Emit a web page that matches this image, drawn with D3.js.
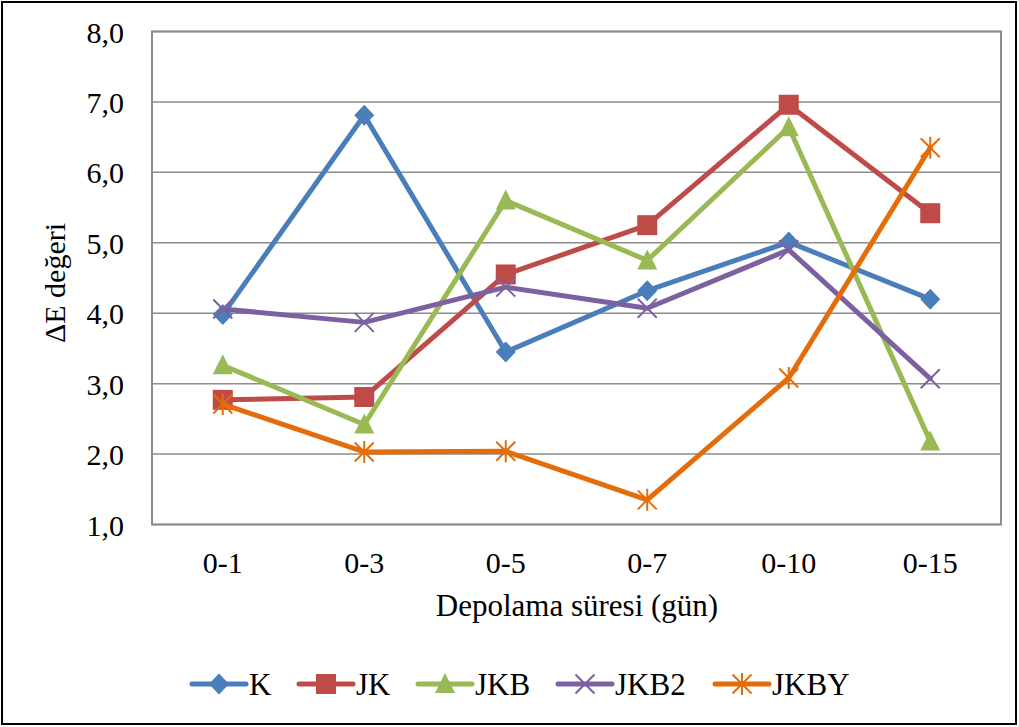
<!DOCTYPE html>
<html>
<head>
<meta charset="utf-8">
<script src="https://cdn.jsdelivr.net/npm/d3@7"></script>
<style>
  html, body { margin: 0; padding: 0; background: #fff; }
  svg { display: block; }
  text { font-family: "Liberation Serif", "Times New Roman", serif; fill: #000; }
</style>
</head>
<body>
<svg id="chart" width="1019" height="727"></svg>
<script>
// Storage periods (days)
const categories = ["0-1", "0-3", "0-5", "0-7", "0-10", "0-15"];

// ΔE values per sample group
const seriesNames = ["K", "JK", "JKB", "JKB2", "JKBY"];
const valuesK    = [3.98, 6.81, 3.45, 4.32, 5.01, 4.20];
const valuesJK   = [2.77, 2.81, 4.55, 5.25, 6.96, 5.42];
const valuesJKB  = [3.26, 2.42, 5.60, 4.75, 6.64, 2.18];
const valuesJKB2 = [4.06, 3.87, 4.37, 4.07, 4.90, 3.07];
const valuesJKBY = [2.71, 2.03, 2.04, 1.35, 3.08, 6.35];

const yTicks = [1, 2, 3, 4, 5, 6, 7, 8];

const series = [
  { name: "K",    values: valuesK,    color: "#4A7EBB", marker: "diamond" },
  { name: "JK",   values: valuesJK,   color: "#BE4B48", marker: "square" },
  { name: "JKB",  values: valuesJKB,  color: "#98B954", marker: "triangle" },
  { name: "JKB2", values: valuesJKB2, color: "#7D60A0", marker: "x" },
  { name: "JKBY", values: valuesJKBY, color: "#E46C0A", marker: "star" }
];

const svg = d3.select("#chart");
const W = 1019, H = 727;

// outer frame
svg.append("rect")
  .attr("x", 2).attr("y", 2).attr("width", W - 5).attr("height", H - 5)
  .attr("fill", "#fff").attr("stroke", "#000").attr("stroke-width", 2);

const plot = { left: 152, right: 1001, top: 31.5, bottom: 524.5 };

const x = d3.scaleBand().domain(categories).range([plot.left, plot.right]);
const y = d3.scaleLinear().domain([1, 8]).range([plot.bottom, plot.top]);
const cx = c => x(c) + x.bandwidth() / 2;

// gridlines
svg.append("g").selectAll("line").data(yTicks).join("line")
  .attr("x1", plot.left).attr("x2", plot.right)
  .attr("y1", d => y(d)).attr("y2", d => y(d))
  .attr("stroke", "#8c8c8c").attr("stroke-width", 1.5);

// plot frame
svg.append("rect")
  .attr("x", plot.left).attr("y", plot.top)
  .attr("width", plot.right - plot.left).attr("height", plot.bottom - plot.top)
  .attr("fill", "none").attr("stroke", "#8c8c8c").attr("stroke-width", 2);

// y axis labels
const fmt = d => d3.format(".1f")(d).replace(".", ",");
svg.append("g").selectAll("text").data(yTicks).join("text")
  .attr("x", 124).attr("y", d => y(d) + 11)
  .attr("text-anchor", "end")
  .style("font-size", "30px")
  .text(fmt);

// x axis labels
svg.append("g").selectAll("text").data(categories).join("text")
  .attr("x", d => cx(d)).attr("y", 573)
  .attr("text-anchor", "middle")
  .style("font-size", "30px")
  .text(d => d);

// axis titles
svg.append("text")
  .attr("x", 577).attr("y", 616)
  .attr("text-anchor", "middle")
  .style("font-size", "31px")
  .text("Depolama süresi (gün)");

svg.append("text")
  .attr("transform", "translate(65,283) rotate(-90)")
  .attr("text-anchor", "middle")
  .style("font-size", "30px")
  .text("ΔE değeri");

// marker drawing
function drawMarker(g, type, color) {
  switch (type) {
    case "diamond":
      g.append("path").attr("d", "M0,-10.5L10,0L0,10.5L-10,0Z").attr("fill", color);
      break;
    case "square":
      g.append("rect").attr("x", -10).attr("y", -10).attr("width", 20).attr("height", 20).attr("fill", color);
      break;
    case "triangle":
      g.append("path").attr("d", "M0,-11L10,9L-10,9Z").attr("fill", color);
      break;
    case "x":
      g.append("path").attr("d", "M-9.5,-9.5L9.5,9.5M-9.5,9.5L9.5,-9.5")
        .attr("stroke", color).attr("stroke-width", 2).attr("fill", "none");
      break;
    case "star":
      g.append("path").attr("d", "M-9.5,-9.5L9.5,9.5M-9.5,9.5L9.5,-9.5M0,-11L0,11")
        .attr("stroke", color).attr("stroke-width", 2).attr("fill", "none");
      break;
  }
}

const line = d3.line().x(d => cx(d.c)).y(d => y(d.v));

series.forEach(s => {
  const pts = categories.map((c, i) => ({ c, v: s.values[i] }));
  svg.append("path")
    .datum(pts)
    .attr("d", line)
    .attr("fill", "none")
    .attr("stroke", s.color)
    .attr("stroke-width", 5)
    .attr("stroke-linejoin", "round")
    .attr("stroke-linecap", "round");
  const mg = svg.append("g");
  pts.forEach(p => {
    const g = mg.append("g").attr("transform", `translate(${cx(p.c)},${y(p.v)})`);
    drawMarker(g, s.marker, s.color);
  });
});

// legend
const legendX = [192, 299, 418, 558, 715];
const legendY = 684;
series.forEach((s, i) => {
  const g = svg.append("g").attr("transform", `translate(${legendX[i]},${legendY})`);
  g.append("line").attr("x1", 0).attr("x2", 54).attr("y1", 0).attr("y2", 0)
    .attr("stroke", s.color).attr("stroke-width", 5).attr("stroke-linecap", "round");
  drawMarker(g.append("g").attr("transform", "translate(27,0)"), s.marker, s.color);
  g.append("text").attr("x", 57).attr("y", 11)
    .style("font-size", "31px").text(s.name);
});
</script>
</body>
</html>
